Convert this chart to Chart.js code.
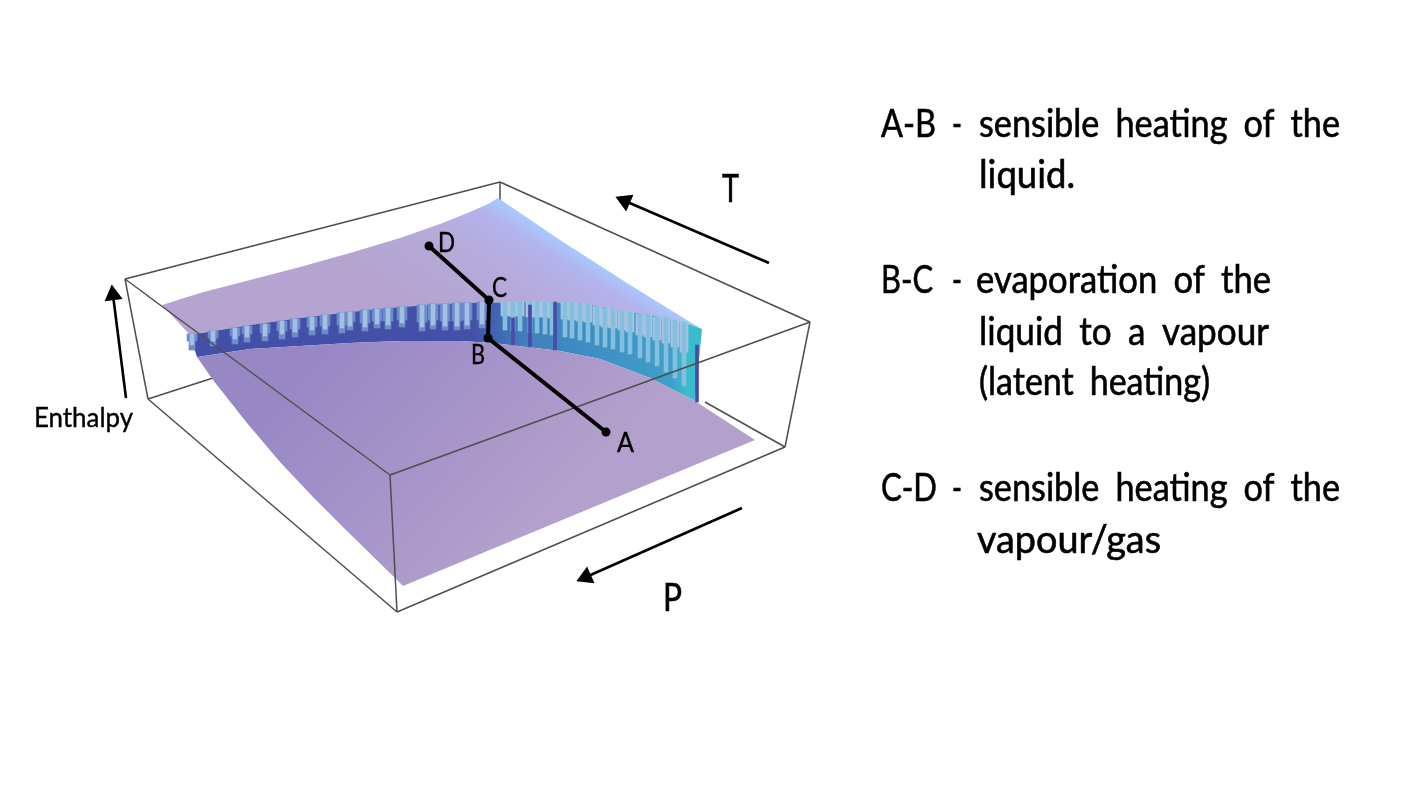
<!DOCTYPE html>
<html>
<head>
<meta charset="utf-8">
<title>Enthalpy surface</title>
<script src="https://cdn.jsdelivr.net/npm/chart.js@4"></script>
<style>
  html, body { margin: 0; padding: 0; background: #fff; }
  canvas { display: block; filter: blur(0.5px); }
</style>
</head>
<body>
<canvas id="chart" width="1424" height="804"></canvas>
<script>
// axes are hidden and simply run over the picture, so values are read straight off it
const AXIS_X_MAX = 1424;
const AXIS_Y_MAX = 804;

// A-B-C-D heating path
const pathX = [606, 488, 489, 429];
const pathY = [432, 338, 300, 246];

// surface outline
const upperEdgeX = [162, 200, 250, 300, 350, 400, 440, 470, 488, 498, 560, 627, 690, 702];
const upperEdgeY = [305, 293, 280, 267, 253, 238, 224, 212, 204, 198, 240, 283, 322, 329];
const wallTopX = [162, 190, 250, 300, 350, 400, 460, 533, 583, 617, 650, 683, 702];
const wallTopY = [305, 335, 325, 318, 312, 307, 303, 302, 303, 310, 315, 322, 329];
const wallBottomX = [190, 197, 250, 300, 350, 400, 460, 493, 560, 600, 650, 695, 702];
const wallBottomY = [335, 357, 349, 346, 343, 341, 341, 343, 351, 359, 378, 401, 329];
const lowerTopX = [197, 250, 300, 350, 400, 460, 493, 560, 600, 650, 695, 755];
const lowerTopY = [357, 349, 346, 343, 341, 341, 343, 351, 359, 378, 401, 440];
const lowerEdgeX = [197, 213, 247, 280, 313, 347, 395, 403, 755];
const lowerEdgeY = [357, 380, 423, 462, 497, 531, 578, 586, 440];

// wedges in the wall, left part
const wedgeX = [192, 213, 235, 247, 265, 282, 295, 312, 325, 342, 350, 365, 377, 388, 402, 422, 433, 445, 457, 467, 482];
const wedgeTop = [334, 331, 328, 326, 324, 321, 319, 317, 315, 313, 312, 310, 309, 308, 307, 305, 304, 304, 303, 303, 302];
const wedgeTip = [350, 346, 344, 342, 341, 339, 337, 335, 334, 333, 330, 331, 328, 329, 327, 331, 329, 330, 330, 329, 328];
const wedgeCore = [345, 341, 339, 337, 336, 334, 332, 330, 329, 328, 326, 327, 324, 325, 323, 327, 325, 326, 326, 325, 324];
const wedgeShoulder = [341, 338, 336, 334, 333, 331, 329, 327, 326, 325, 322, 323, 321, 321, 320, 322, 320, 321, 321, 320, 320];

// stripes in the wall, right part
const stripeX = [505, 513, 520, 530, 537, 545, 552, 565, 572, 580, 588, 597, 605, 613, 622, 630, 640, 648, 657, 666, 675, 684];
const stripeTop = [302, 302, 302, 302, 302, 302, 302, 302, 303, 303, 304, 306, 308, 309, 311, 312, 314, 315, 317, 318, 320, 322];
const stripeTip = [330, 331, 331, 333, 333, 334, 335, 337, 338, 340, 342, 345, 347, 349, 352, 354, 358, 362, 366, 372, 378, 386];
const stripeBand = [316, 316, 316, 317, 317, 317, 318, 319, 320, 321, 322, 325, 327, 328, 330, 332, 335, 337, 340, 343, 347, 352];

// dark slivers
const sliverX = [513, 530, 555, 697];
const sliverTop = [318, 305, 302, 345];
const sliverBottom = [345, 347, 350, 402];

// box edges as x0, y0, x1, y1
const backEdges = [
  [125, 279, 500, 182],
  [500, 182, 810, 322],
  [500, 182, 500, 200],
  [125, 279, 148, 399],
  [810, 322, 785, 447],
  [148, 399, 216, 377],
  [785, 447, 705, 402],
  [148, 399, 397, 612],
  [397, 612, 785, 447]
];
const frontEdges = [
  [125, 279, 390, 475],
  [390, 475, 810, 322],
  [390, 475, 397, 612]
];

// arrows as tail x, tail y, head x, head y, heading
const arrows = [
  [769, 263, 625, 201, -66.5],
  [742, 508, 586, 577, -114],
  [126, 398, 113, 295, -7]
];

// text: string, x, baseline, width
const captions = [
  ['A-B', 881, 137, 55],
  ['-', 952, 137, 10],
  ['sensible heating of the', 979, 137, 361],
  ['liquid.', 979, 188, 96],
  ['B-C', 881, 293, 52],
  ['-', 952, 293, 10],
  ['evaporation of the', 976, 293, 295],
  ['liquid to a vapour', 979, 345, 290],
  ['(latent heating)', 979, 395, 231],
  ['C-D', 881, 501, 56],
  ['-', 952, 501, 10],
  ['sensible heating of the', 979, 501, 361],
  ['vapour/gas', 977, 553, 184]
];
const axisNames = [
  ['T', 722, 202, 17],
  ['P', 663, 611, 19]
];
const smallLabels = [
  ['Enthalpy', 34, 427, 99],
  ['A', 617, 452, 17],
  ['B', 471, 364, 14],
  ['C', 492, 297, 15],
  ['D', 438, 252, 17]
];

const canvas = document.getElementById('chart');
const ctx = canvas.getContext('2d');

function xy(xs, ys) {
  return xs.map((x, i) => ({ x, y: ys[i] }));
}

function gradient(x0, y0, x1, y1, stops) {
  const g = ctx.createLinearGradient(x0, y0, x1, y1);
  stops.forEach(s => g.addColorStop(s[0], s[1]));
  return g;
}

// line that only bounds a fill
function boundary(xs, ys) {
  return { type: 'line', data: xy(xs, ys), borderWidth: 0, pointRadius: 0, fill: false };
}

function sheet(xs, ys, color) {
  return { type: 'line', data: xy(xs, ys), borderWidth: 0, pointRadius: 0, fill: '+1', backgroundColor: color };
}

function edge(e) {
  return {
    type: 'line',
    data: [{ x: e[0], y: e[1] }, { x: e[2], y: e[3] }],
    borderColor: '#4e4e4e',
    borderWidth: 1.5,
    pointRadius: 0
  };
}

function arrow(a) {
  return {
    type: 'line',
    data: [{ x: a[0], y: a[1] }, { x: a[2], y: a[3] }],
    borderColor: '#000',
    borderWidth: 2.6,
    pointRadius: [0, 10.5],
    pointStyle: 'triangle',
    pointRotation: a[4],
    pointBackgroundColor: '#000',
    pointBorderWidth: 0
  };
}

function bars(xs, tops, bottoms, thickness, color) {
  return {
    type: 'bar',
    data: xs.map((x, i) => ({ x, y: [tops[i], bottoms[i]] })),
    backgroundColor: color,
    barThickness: thickness,
    grouped: false,
    borderWidth: 0
  };
}

const labelPlugin = {
  id: 'labels',
  afterDatasetsDraw(chart) {
    const c = chart.ctx;
    const put = (rows, font, spacing, weight) => {
      c.save();
      c.fillStyle = '#000';
      c.strokeStyle = '#000';
      c.lineWidth = weight;
      c.textBaseline = 'alphabetic';
      c.font = font;
      c.wordSpacing = spacing;
      rows.forEach(r => {
        const x = chart.scales.x.getPixelForValue(r[1]);
        const y = chart.scales.y.getPixelForValue(r[2]);
        c.fillText(r[0], x, y, r[3]);
        c.strokeText(r[0], x, y, r[3]);
      });
      c.restore();
    };
    put(captions, '38px Lato', '8px', 0.6);
    put(axisNames, '38px Lato', '0px', 0.6);
    put(smallLabels, '27px Lato', '0px', 0.4);
  }
};

// first dataset ends up on top
const datasets = [
  {
    type: 'line',
    data: xy(pathX, pathY),
    borderColor: '#000',
    borderWidth: 4,
    pointRadius: 4.5,
    pointBackgroundColor: '#000',
    pointBorderWidth: 0
  },
  ...arrows.map(arrow),
  ...frontEdges.map(edge),
  bars(sliverX, sliverTop, sliverBottom, 3, '#4a4aa8'),
  bars(wedgeX, wedgeTop, wedgeCore, 4, '#a4bfe2'),
  bars(wedgeX, wedgeTop, wedgeShoulder, 10, '#6c8ccb'),
  bars(wedgeX, wedgeTop, wedgeTip, 6, '#6c8ccb'),
  bars(stripeX, stripeTop, stripeTip, 4, '#84bfe0'),
  bars(stripeX, stripeTop, stripeBand, 8, '#a9c3e2'),
  sheet(lowerTopX, lowerTopY, gradient(300, 370, 500, 560, [[0, '#9787c5'], [1, '#b3a0cc']])),
  boundary(lowerEdgeX, lowerEdgeY),
  sheet(wallTopX.slice(1), wallTopY.slice(1), gradient(190, 0, 702, 0, [[0, '#4450a8'], [0.55, '#4450a8'], [0.66, '#3f80bd'], [0.94, '#3f9fca'], [0.97, '#3bbccc'], [1, '#3bbccc']])),
  boundary(wallBottomX, wallBottomY),
  sheet(upperEdgeX, upperEdgeY, gradient(511, 363, 580, 253, [[0, '#b4a4cf'], [0.6, '#b6abdc'], [0.88, '#b2b4ee'], [1, '#a8c8fd']])),
  boundary(wallTopX, wallTopY),
  ...backEdges.map(edge)
];

new Chart(ctx, {
  type: 'line',
  data: { datasets },
  plugins: [labelPlugin],
  options: {
    responsive: false,
    animation: false,
    layout: { padding: 0, autoPadding: false },
    elements: { line: { tension: 0 } },
    plugins: { legend: { display: false }, tooltip: { enabled: false } },
    scales: {
      x: { type: 'linear', min: 0, max: AXIS_X_MAX, display: false, offset: false },
      y: { type: 'linear', min: 0, max: AXIS_Y_MAX, reverse: true, display: false }
    }
  }
});
</script>
</body>
</html>
